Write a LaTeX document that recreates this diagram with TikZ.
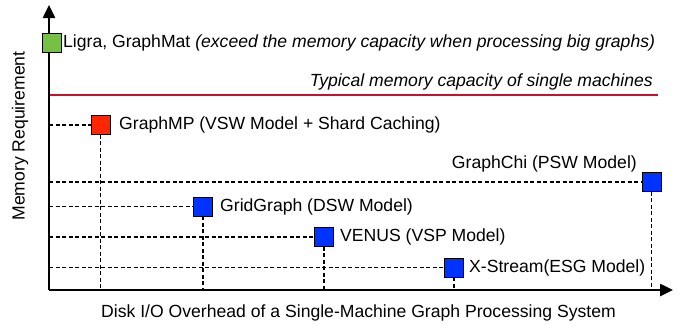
\documentclass[tikz,border=0pt]{standalone}
\usepackage{fontspec}
\setmainfont{Liberation Sans}
\usetikzlibrary{arrows.meta}
\definecolor{sqgreen}{RGB}{118,192,68}
\definecolor{sqred}{RGB}{255,38,0}
\definecolor{sqblue}{RGB}{0,51,255}
\definecolor{capred}{RGB}{200,16,46}
\begin{document}
\begin{tikzpicture}[x=1pt,y=-1pt,
  every node/.style={font=\fontsize{17.6}{20}\selectfont},
  sq/.style={draw=black,line width=0.8pt,minimum size=19pt,inner sep=0pt},
  lbl/.style={inner sep=0pt},
  guide/.style={line width=1.2pt,dash pattern=on 4pt off 2.5pt},
  axisline/.style={line width=2.5pt,-{Triangle[length=13pt,width=12pt]}}]
\useasboundingbox (0,0) rectangle (689,325);
% axes
\coordinate (O) at (49,290);
\coordinate (ytip) at (49,5);
\coordinate (xtip) at (673,290);
% capacity line
\coordinate (capL) at (49,95);
\coordinate (capR) at (658,95);
\draw[capred,line width=2pt] (capL) -- (capR);
\node[lbl,anchor=base east] (captxt) at (653,86) {\itshape Typical memory capacity of single machines};
% squares
\node[sq,fill=sqred] (gmp) at (100.5,125) {};
\node[sq,fill=sqblue] (gchi) at (651.5,182) {};
\node[sq,fill=sqblue] (grid) at (203,206.5) {};
\node[sq,fill=sqblue] (venus) at (324,237) {};
\node[sq,fill=sqblue] (xs) at (454,267.5) {};
% guides
\foreach \n in {gmp,gchi,grid,venus,xs}{
  \coordinate (\n-y) at (O |- \n);
  \coordinate (\n-x) at (O -| \n);
  \draw[guide] (\n-y) -- (\n.west);
  \draw[guide] (\n.south) -- (\n-x);
}
\draw[axisline] (O) -- (ytip);
\draw[axisline] (O) -- (xtip);
\node[sq,fill=sqgreen] (ligra) at (51.5,43) {};
% labels
\node[lbl,anchor=west] (ligratxt) at (63,43) {Ligra, GraphMat \textit{(exceed the memory capacity when processing big graphs)}};
\node[lbl,anchor=west] (gmptxt) at (119,125) {GraphMP (VSW Model + Shard Caching)};
\node[lbl,anchor=east] (gchitxt) at (637,164) {GraphChi (PSW Model)};
\node[lbl,anchor=west] (gridtxt) at (220,206.5) {GridGraph (DSW Model)};
\node[lbl,anchor=west] (venustxt) at (340,237) {VENUS (VSP Model)};
\node[lbl,anchor=west] (xstxt) at (469,267.5) {X-Stream(ESG Model)};
\node[lbl] (xlab) at (358.5,313) {Disk I/O Overhead of a Single-Machine Graph Processing System};
\node[lbl,rotate=90] (ylab) at (20,136) {Memory Requirement};
\end{tikzpicture}
\end{document}
